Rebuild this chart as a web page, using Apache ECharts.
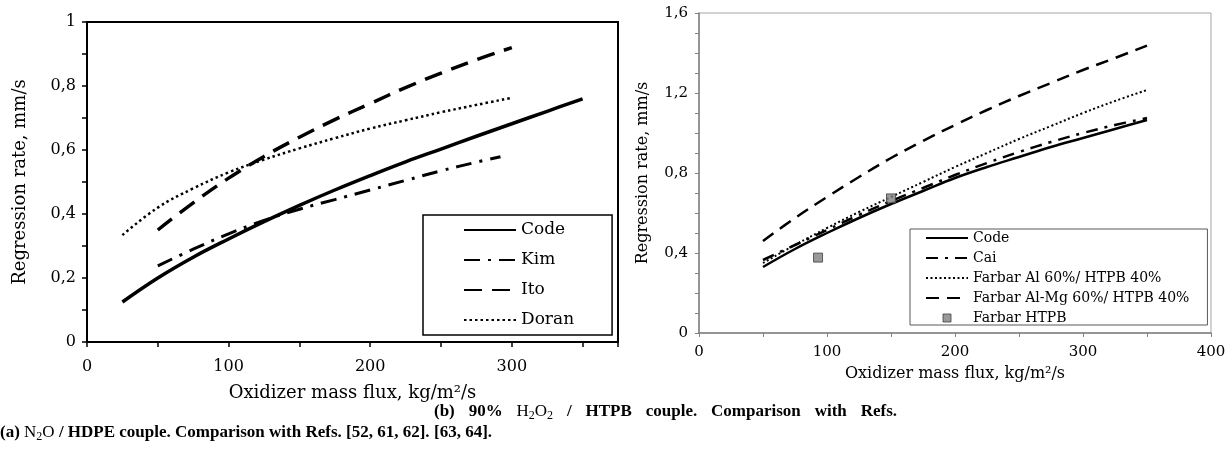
<!DOCTYPE html>
<html>
<head>
<meta charset="utf-8">
<script src="https://cdn.jsdelivr.net/npm/echarts@6/dist/echarts.min.js"></script>
<style>html,body{margin:0;padding:0;background:#fff;}#c{width:1232px;height:457px;}</style>
</head>
<body>
<div id="c"></div>
<script>
// ---- Left chart (a): N2O / HDPE ----
const leftCodeX = [25, 50, 75, 100, 125, 150, 175, 200, 225, 250, 275, 300, 325, 350];
const leftCodeY = [0.125, 0.2, 0.265, 0.322, 0.376, 0.427, 0.475, 0.52, 0.563, 0.603, 0.643, 0.682, 0.721, 0.76];
const kimX = [50, 75, 100, 125, 150, 175, 200, 225, 250, 275, 292];
const kimY = [0.238, 0.29, 0.338, 0.38, 0.415, 0.445, 0.475, 0.505, 0.535, 0.562, 0.579];
const itoX = [50, 75, 100, 125, 150, 175, 200, 225, 250, 275, 300];
const itoY = [0.35, 0.435, 0.512, 0.58, 0.64, 0.695, 0.745, 0.795, 0.84, 0.882, 0.92];
const doranX = [25, 50, 75, 100, 125, 150, 175, 200, 225, 250, 275, 300];
const doranY = [0.334, 0.42, 0.48, 0.53, 0.57, 0.605, 0.637, 0.667, 0.693, 0.718, 0.741, 0.763];
const leftXTicks = [0, 100, 200, 300];
const leftYTicks = [0, 0.2, 0.4, 0.6, 0.8, 1];

// ---- Right chart (b): 90% H2O2 / HTPB ----
const rightX = [50, 75, 100, 125, 150, 175, 200, 225, 250, 275, 300, 325, 350];
const rightCodeY = [0.33, 0.42, 0.5, 0.575, 0.645, 0.71, 0.775, 0.83, 0.88, 0.93, 0.975, 1.02, 1.065];
const caiY = [0.365, 0.44, 0.515, 0.59, 0.66, 0.725, 0.79, 0.85, 0.905, 0.955, 1.0, 1.04, 1.075];
const farbarAlY = [0.35, 0.44, 0.525, 0.605, 0.68, 0.755, 0.83, 0.9, 0.97, 1.035, 1.1, 1.16, 1.215];
const farbarAlMgY = [0.46, 0.575, 0.68, 0.78, 0.875, 0.96, 1.04, 1.115, 1.185, 1.25, 1.315, 1.375, 1.437];
const htpbX = [93, 150];
const htpbY = [0.377, 0.673];
const rightXTicks = [0, 100, 200, 300, 400];
const rightYTicks = [0, 0.4, 0.8, 1.2, 1.6];

const zip = (xs, ys) => xs.map((x, i) => [x, ys[i]]);
const near = (v, list) => list.some(t => Math.abs(t - v) < 1e-6);
const fmtComma = v => String(Math.round(v * 10) / 10).replace('.', ',');

const FONT = 'DejaVu Serif';
const CAP_FONT = 'Liberation Serif';
const CAP_SIZE = 17;
const chart = echarts.init(document.getElementById('c'), null, {renderer: 'canvas'});

// text measurement for caption layout
const mctx = document.createElement('canvas').getContext('2d');
function tw(str, bold, size) {
  mctx.font = (bold ? 'bold ' : '') + size + 'px "' + CAP_FONT + '"';
  return mctx.measureText(str).width;
}

function lineSeries(name, data, xi, type, width) {
  return {
    name: name, type: 'line', xAxisIndex: xi, yAxisIndex: xi, data: data,
    symbol: 'none', smooth: 0.4, z: 3,
    lineStyle: {color: '#000', width: width, type: type},
    itemStyle: {color: '#000'}
  };
}
const noDot = {color: 'rgba(0,0,0,0)', borderWidth: 0};

// caption rich styles
const SUB = Math.round(CAP_SIZE * 0.7);
const capRich = {
  b: {fontFamily: CAP_FONT, fontWeight: 'bold', fontSize: CAP_SIZE, lineHeight: 21, fill: '#000'},
  m: {fontFamily: CAP_FONT, fontWeight: 'normal', fontSize: CAP_SIZE, lineHeight: 21, fill: '#000'},
  s: {fontFamily: CAP_FONT, fontWeight: 'normal', fontSize: SUB, lineHeight: 13, verticalAlign: 'bottom', fill: '#000'}
};
// width of caption (a) plus a space -> start of caption (b) column
const capAWidth = tw('(a) ', true, CAP_SIZE) + tw('N', false, CAP_SIZE) + tw('2', false, SUB) + tw('O', false, CAP_SIZE) +
  tw(' / HDPE couple. Comparison with Refs. [52, 61, 62].', true, CAP_SIZE);
const capBLeft = Math.round(capAWidth + tw(' ', true, CAP_SIZE));
// caption (b) first line is justified to end near x = 897
const bWords = ['(b)', '90%', 'H2O2', '/', 'HTPB', 'couple.', 'Comparison', 'with', 'Refs.'];
const bNatural = tw('(b) 90% ', true, CAP_SIZE) + tw('H', false, CAP_SIZE) + tw('2', false, SUB) + tw('O', false, CAP_SIZE) + tw('2', false, SUB) +
  tw(' / HTPB couple. Comparison with Refs.', true, CAP_SIZE);
const spaceW = tw(' ', true, CAP_SIZE);
const gapW = Math.max(spaceW, spaceW + (897 - capBLeft - bNatural) / (bWords.length - 1));
capRich.g = {width: gapW, lineHeight: 21};
const G = '{g| }';

const option = {
  animation: false,
  backgroundColor: '#fff',
  textStyle: {fontFamily: FONT, color: '#000'},
  grid: [
    {left: 87, top: 22, width: 531, height: 320, show: true, borderColor: '#000', borderWidth: 2, containLabel: false},
    {left: 699, top: 13, width: 512, height: 320, show: true, borderColor: '#a6a6a6', borderWidth: 1, containLabel: false}
  ],
  xAxis: [
    {
      type: 'value', gridIndex: 0, min: 0, max: 375, interval: 50,
      name: 'Oxidizer mass flux, kg/m\u00b2/s', nameLocation: 'middle', nameGap: 42,
      nameTextStyle: {fontFamily: FONT, fontSize: 18, color: '#000'},
      axisLine: {show: true, onZero: false, lineStyle: {color: '#000', width: 2}},
      axisTick: {show: true, length: 5, lineStyle: {color: '#000', width: 1.5}},
      axisLabel: {show: true, margin: 17, fontFamily: FONT, fontSize: 16, color: '#000',
        formatter: v => near(v, leftXTicks) ? String(v) : ''},
      splitLine: {show: false}
    },
    {
      type: 'value', gridIndex: 1, min: 0, max: 400, interval: 50,
      name: 'Oxidizer mass flux, kg/m\u00b2/s', nameLocation: 'middle', nameGap: 33,
      nameTextStyle: {fontFamily: FONT, fontSize: 16, color: '#000'},
      axisLine: {show: true, onZero: false, lineStyle: {color: '#808080', width: 1.5}},
      axisTick: {show: true, length: 4, lineStyle: {color: '#808080', width: 1}},
      axisLabel: {show: true, margin: 12, fontFamily: FONT, fontSize: 15, color: '#000',
        formatter: v => near(v, rightXTicks) ? String(v) : ''},
      splitLine: {show: false}
    }
  ],
  yAxis: [
    {
      type: 'value', gridIndex: 0, min: 0, max: 1, interval: 0.1,
      name: 'Regression rate, mm/s', nameLocation: 'middle', nameGap: 58,
      nameTextStyle: {fontFamily: FONT, fontSize: 18, color: '#000'},
      axisLine: {show: true, onZero: false, lineStyle: {color: '#000', width: 2}},
      axisTick: {show: true, length: 5, lineStyle: {color: '#000', width: 1.5}},
      axisLabel: {show: true, margin: 11, fontFamily: FONT, fontSize: 16, color: '#000',
        formatter: v => near(v, leftYTicks) ? fmtComma(v) : ''},
      splitLine: {show: false}
    },
    {
      type: 'value', gridIndex: 1, min: 0, max: 1.6, interval: 0.1,
      name: 'Regression rate, mm/s', nameLocation: 'middle', nameGap: 48,
      nameTextStyle: {fontFamily: FONT, fontSize: 16, color: '#000'},
      axisLine: {show: true, onZero: false, lineStyle: {color: '#808080', width: 1.5}},
      axisTick: {show: true, length: 4, lineStyle: {color: '#808080', width: 1}},
      axisLabel: {show: true, margin: 11, fontFamily: FONT, fontSize: 15, color: '#000',
        formatter: v => near(v, rightYTicks) ? fmtComma(v) : ''},
      splitLine: {show: false}
    }
  ],
  legend: [
    {
      data: ['Code', 'Kim', 'Ito', 'Doran'],
      orient: 'vertical', left: 423, top: 215,
      itemWidth: 52, itemHeight: 10, itemGap: 12,
      padding: [6, 38, 6, 40],
      borderColor: '#000', borderWidth: 1.5, backgroundColor: '#fff',
      itemStyle: noDot,
      textStyle: {fontFamily: FONT, fontSize: 17, color: '#000', lineHeight: 18},
      selectedMode: false
    },
    {
      data: ['Code ', 'Cai', 'Farbar Al 60%/ HTPB 40%', 'Farbar Al-Mg 60%/ HTPB 40%',
        {name: 'Farbar HTPB', icon: 'path://M0,0h10v10h-10z',
         itemStyle: {color: '#808080', borderColor: '#404040', borderWidth: 1}}],
      orient: 'vertical', left: 910, top: 229,
      itemWidth: 42, itemHeight: 8, itemGap: 6,
      padding: [2, 18, 0, 15],
      borderColor: '#595959', borderWidth: 1, backgroundColor: '#fff',
      itemStyle: noDot,
      textStyle: {fontFamily: FONT, fontSize: 14, color: '#000', lineHeight: 14},
      selectedMode: false
    }
  ],
  series: [
    lineSeries('Code', zip(leftCodeX, leftCodeY), 0, 'solid', 3.5),
    lineSeries('Kim', zip(kimX, kimY), 0, [16, 8, 3, 8], 3),
    lineSeries('Ito', zip(itoX, itoY), 0, [18, 10], 3.5),
    lineSeries('Doran', zip(doranX, doranY), 0, [2.5, 3], 2.5),
    lineSeries('Code ', zip(rightX, rightCodeY), 1, 'solid', 2.5),
    lineSeries('Cai', zip(rightX, caiY), 1, [12, 7, 3, 7], 2.5),
    lineSeries('Farbar Al 60%/ HTPB 40%', zip(rightX, farbarAlY), 1, [2, 2.5], 2),
    lineSeries('Farbar Al-Mg 60%/ HTPB 40%', zip(rightX, farbarAlMgY), 1, [13, 8], 2.5),
    {
      name: 'Farbar HTPB', type: 'scatter', xAxisIndex: 1, yAxisIndex: 1,
      data: zip(htpbX, htpbY), symbol: 'rect', symbolSize: 9, z: 4,
      itemStyle: {color: '#808080', borderColor: '#404040', borderWidth: 1}
    }
  ],
  graphic: [
    {
      type: 'text', left: 0, top: 424,
      style: {
        text: '{b|(a) }{m|N}{s|2}{m|O}{b| / HDPE couple. Comparison with Refs. [52, 61, 62].}',
        rich: capRich
      }
    },
    {
      type: 'text', left: capBLeft, top: 403,
      style: {
        text: '{b|(b)}' + G + '{b|90%}' + G + '{m|H}{s|2}{m|O}{s|2}' + G + '{b|/}' + G + '{b|HTPB}' + G +
              '{b|couple.}' + G + '{b|Comparison}' + G + '{b|with}' + G + '{b|Refs.}',
        rich: capRich
      }
    },
    {
      type: 'text', left: capBLeft, top: 424,
      style: {text: '{b|[63, 64].}', rich: capRich}
    }
  ]
};
chart.setOption(option);
</script>
</body>
</html>
